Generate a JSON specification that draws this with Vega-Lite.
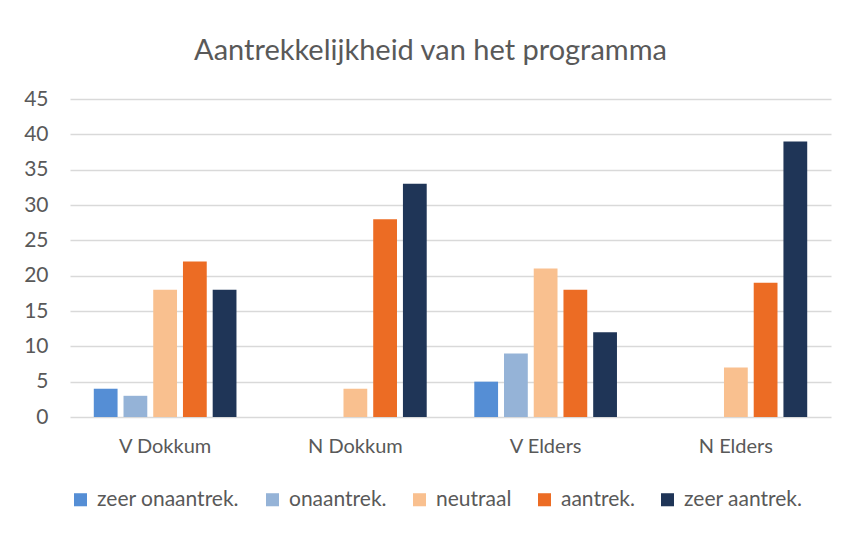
{
  "$schema": "https://vega.github.io/schema/vega-lite/v6.json",
  "autosize": "none",
  "width": 761,
  "height": 318,
  "padding": {"left": 70, "top": 99, "right": 14, "bottom": 116},
  "background": "white",
  "title": {
    "text": "Aantrekkelijkheid van het programma",
    "fontSize": 29,
    "font": "Lato",
    "fontWeight": "normal",
    "color": "#595959",
    "anchor": "middle",
    "offset": 22,
    "dx": -20
  },
  "data": {
    "values": [
      {"groep": "V Dokkum", "oordeel": "zeer onaantrek.", "aantal": 4},
      {"groep": "V Dokkum", "oordeel": "onaantrek.", "aantal": 3},
      {"groep": "V Dokkum", "oordeel": "neutraal", "aantal": 18},
      {"groep": "V Dokkum", "oordeel": "aantrek.", "aantal": 22},
      {"groep": "V Dokkum", "oordeel": "zeer aantrek.", "aantal": 18},
      {"groep": "N Dokkum", "oordeel": "zeer onaantrek.", "aantal": 0},
      {"groep": "N Dokkum", "oordeel": "onaantrek.", "aantal": 0},
      {"groep": "N Dokkum", "oordeel": "neutraal", "aantal": 4},
      {"groep": "N Dokkum", "oordeel": "aantrek.", "aantal": 28},
      {"groep": "N Dokkum", "oordeel": "zeer aantrek.", "aantal": 33},
      {"groep": "V Elders", "oordeel": "zeer onaantrek.", "aantal": 5},
      {"groep": "V Elders", "oordeel": "onaantrek.", "aantal": 9},
      {"groep": "V Elders", "oordeel": "neutraal", "aantal": 21},
      {"groep": "V Elders", "oordeel": "aantrek.", "aantal": 18},
      {"groep": "V Elders", "oordeel": "zeer aantrek.", "aantal": 12},
      {"groep": "N Elders", "oordeel": "zeer onaantrek.", "aantal": 0},
      {"groep": "N Elders", "oordeel": "onaantrek.", "aantal": 0},
      {"groep": "N Elders", "oordeel": "neutraal", "aantal": 7},
      {"groep": "N Elders", "oordeel": "aantrek.", "aantal": 19},
      {"groep": "N Elders", "oordeel": "zeer aantrek.", "aantal": 39}
    ]
  },
  "mark": {"type": "bar"},
  "encoding": {
    "x": {
      "field": "groep",
      "type": "nominal",
      "sort": ["V Dokkum", "N Dokkum", "V Elders", "N Elders"],
      "scale": {"paddingInner": 0.25, "paddingOuter": 0.125},
      "axis": {
        "title": null,
        "labelAngle": 0,
        "domain": false,
        "ticks": false,
        "labelFont": "Lato",
        "labelFontSize": 20,
        "labelColor": "#595959",
        "labelPadding": 19
      }
    },
    "xOffset": {
      "field": "oordeel",
      "type": "nominal",
      "sort": ["zeer onaantrek.", "onaantrek.", "neutraal", "aantrek.", "zeer aantrek."],
      "scale": {"paddingInner": 0.2, "paddingOuter": 0}
    },
    "y": {
      "field": "aantal",
      "type": "quantitative",
      "scale": {"domain": [0, 45], "nice": false},
      "axis": {
        "title": null,
        "values": [0, 5, 10, 15, 20, 25, 30, 35, 40, 45],
        "domain": false,
        "ticks": false,
        "gridColor": "#d9d9d9",
        "gridWidth": 1.5,
        "labelFont": "Lato",
        "labelFontSize": 21,
        "labelColor": "#595959",
        "labelPadding": 22
      }
    },
    "color": {
      "field": "oordeel",
      "type": "nominal",
      "sort": ["zeer onaantrek.", "onaantrek.", "neutraal", "aantrek.", "zeer aantrek."],
      "scale": {
        "domain": ["zeer onaantrek.", "onaantrek.", "neutraal", "aantrek.", "zeer aantrek."],
        "range": ["#558ED5", "#95B3D7", "#F9C08F", "#EC6C24", "#1F3557"]
      },
      "legend": {
        "title": null,
        "orient": "bottom",
        "direction": "horizontal",
        "symbolType": "square",
        "symbolSize": 170,
        "symbolStrokeWidth": 0,
        "labelFont": "Lato",
        "labelFontSize": 21,
        "labelColor": "#595959",
        "columnPadding": 22,
        "labelOffset": 6,
        "offset": 33
      }
    }
  },
  "config": {"view": {"stroke": null}}
}
